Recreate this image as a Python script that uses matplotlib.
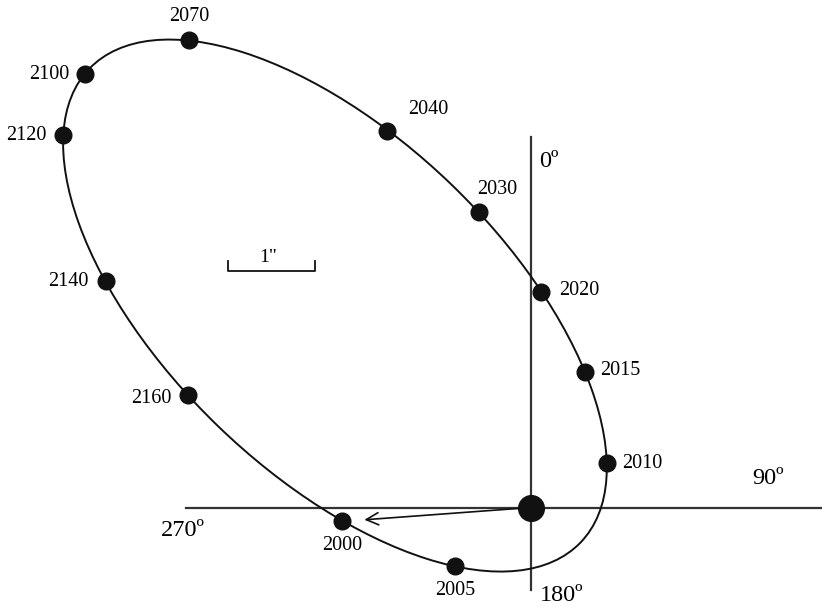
import numpy as np
import matplotlib
matplotlib.use('Agg')
import matplotlib.pyplot as plt
from matplotlib.patches import Ellipse

# positions of the companion (arcsec, relative to the primary)
years = ['2070', '2100', '2120', '2040', '2030', '2020', '2015', '2010', '2005', '2000', '2140', '2160']
xs = [-3.93, -5.13, -5.38, -1.65, -0.60, 0.12, 0.62, 0.87, -0.87, -2.17, -4.89, -3.94]
ys = [5.37, 4.98, 4.28, 4.33, 3.40, 2.48, 1.56, 0.51, -0.67, -0.16, 2.60, 1.29]
scale_len = 1.0  # arcsec

# label placement (offset in points, alignment)
label_pos = {
    '2070': ((0, 17), 'center'),
    '2100': ((-11, 0), 'right'),
    '2120': ((-12, 0), 'right'),
    '2040': ((15, 15), 'left'),
    '2030': ((-1, 16), 'left'),
    '2020': ((13, 1), 'left'),
    '2015': ((11, 1), 'left'),
    '2010': ((11, 0), 'left'),
    '2005': ((0, -18), 'center'),
    '2000': ((0, -17), 'center'),
    '2140': ((-12, 0), 'right'),
    '2160': ((-12, -2), 'right'),
}

plt.rcParams['font.family'] = ['Liberation Serif', 'DejaVu Serif']

fig = plt.figure(figsize=(8.22, 6.07), dpi=100)
ax = fig.add_axes([0, 0, 1, 1])
ax.set_xlim(-531 / 87, 291 / 87)
ax.set_ylim(-99.5 / 87, 507.5 / 87)
ax.axis('off')

# fit the orbit ellipse through the plotted positions
x = np.array(xs)
y = np.array(ys)
M = np.column_stack([x**2, x * y, y**2, x, y])
A, B, C, D, E = np.linalg.lstsq(M, np.ones_like(x), rcond=None)[0]
x0, y0 = np.linalg.solve([[2 * A, B], [B, 2 * C]], [-D, -E])
F0 = A * x0**2 + B * x0 * y0 + C * y0**2 + D * x0 + E * y0 - 1
evals, evecs = np.linalg.eigh([[A, B / 2], [B / 2, C]])
semi = np.sqrt(-F0 / evals)
ang = np.degrees(np.arctan2(evecs[1, 0], evecs[0, 0]))
ax.add_patch(Ellipse((x0, y0), 2 * semi[0], 2 * semi[1], angle=ang,
                     fill=False, color='#111111', lw=1.4, zorder=2))

# position angle axes
ax.plot([0, 0], [-0.95, 4.26], color='#333333', lw=1.6, zorder=1)
ax.plot([-3.97, 3.4], [0, 0], color='#333333', lw=1.6, zorder=1)
ax.text(0.09, 3.98, '0º', fontsize=17.5, va='center', ha='left')
ax.text(2.54, 0.33, '90º', fontsize=17.5, va='center', ha='left')
ax.text(0.10, -1.01, '180º', fontsize=17.5, va='center', ha='left')
ax.text(-4.00, -0.27, '270º', fontsize=17.5, va='center', ha='center')

# primary star and arrow to the 2000 position
i2000 = years.index('2000')
ax.plot(0, 0, 'o', color='#111111', ms=18.5, zorder=4)
ax.annotate('', xy=(xs[i2000], ys[i2000]), xytext=(0, 0),
            arrowprops=dict(arrowstyle='->', color='#111111', lw=1.2,
                            shrinkA=0, shrinkB=16, mutation_scale=22), zorder=3)

# companion positions
ax.plot(xs, ys, 'o', color='#111111', ms=12, ls='none', zorder=5)
for yr, px, py in zip(years, xs, ys):
    off, ha = label_pos[yr]
    ax.annotate(yr, (px, py), xytext=off, textcoords='offset points',
                ha=ha, va='center', fontsize=14.5)

# scale bar
sx, sy = -3.483, 2.718
ax.plot([sx, sx, sx + scale_len, sx + scale_len], [sy + 0.115, sy, sy, sy + 0.115],
        color='#111111', lw=1.3)
ax.text(sx + scale_len / 2 - 0.04, sy + 0.16, '1"', fontsize=14, ha='center', va='center')

fig.savefig('out.png', dpi=100)
